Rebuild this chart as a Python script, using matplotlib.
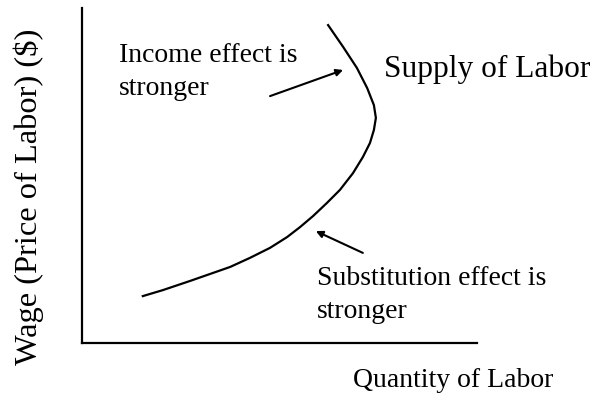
import matplotlib.pyplot as plt

# backward-bending supply of labor
quantity = [1.54, 2.05, 2.73, 3.24, 3.75, 4.25, 4.76, 5.19, 5.52, 5.85,
            6.20, 6.53, 6.86, 7.11, 7.29, 7.39, 7.44, 7.39, 7.22, 6.96,
            6.61, 6.23]
wage = [1.40, 1.58, 1.85, 2.06, 2.27, 2.54, 2.84, 3.16, 3.46, 3.79,
        4.18, 4.57, 5.07, 5.55, 5.97, 6.36, 6.72, 7.10, 7.61, 8.21,
        8.84, 9.49]

income_arrow = [(4.76, 7.37), (6.61, 8.15)]
subst_arrow = [(7.11, 2.69), (5.92, 3.34)]

W, H = 598, 398
fig = plt.figure(figsize=(W / 100, H / 100), dpi=100)
plt.rcParams['font.family'] = ['Liberation Serif', 'DejaVu Serif']

ax = fig.add_axes([82 / W, 1 - 343 / H, (477 - 82) / W, (343 - 8) / H])
ax.set_xlim(0, 10)
ax.set_ylim(0, 10)
for s in ['top', 'right']:
    ax.spines[s].set_visible(False)
for s in ['left', 'bottom']:
    ax.spines[s].set_linewidth(1.6)
ax.set_xticks([])
ax.set_yticks([])

ax.plot(quantity, wage, color='black', lw=1.6, solid_joinstyle='round')

for (x0, y0), (x1, y1) in [income_arrow, subst_arrow]:
    ax.annotate('', xy=(x1, y1), xytext=(x0, y0),
                arrowprops=dict(arrowstyle='-|>', color='black', lw=1.5,
                                mutation_scale=10, shrinkA=0, shrinkB=0))

def px_text(x, y, s, size, **kw):
    fig.text(x / W, 1 - y / H, s, fontsize=size, color='black', **kw)

px_text(119, 62, 'Income effect is', 20, va='baseline')
px_text(119, 95, 'stronger', 20, va='baseline')
px_text(384, 77, 'Supply of Labor', 22.6, va='baseline')
px_text(317, 285, 'Substitution effect is', 20, va='baseline')
px_text(317, 318, 'stronger', 20, va='baseline')
px_text(353, 387, 'Quantity of Labor', 20, va='baseline')
px_text(29, 197, 'Wage (Price of Labor) ($)', 23.4, rotation=90,
        ha='center', va='center')

fig.savefig('out.png', dpi=100)
